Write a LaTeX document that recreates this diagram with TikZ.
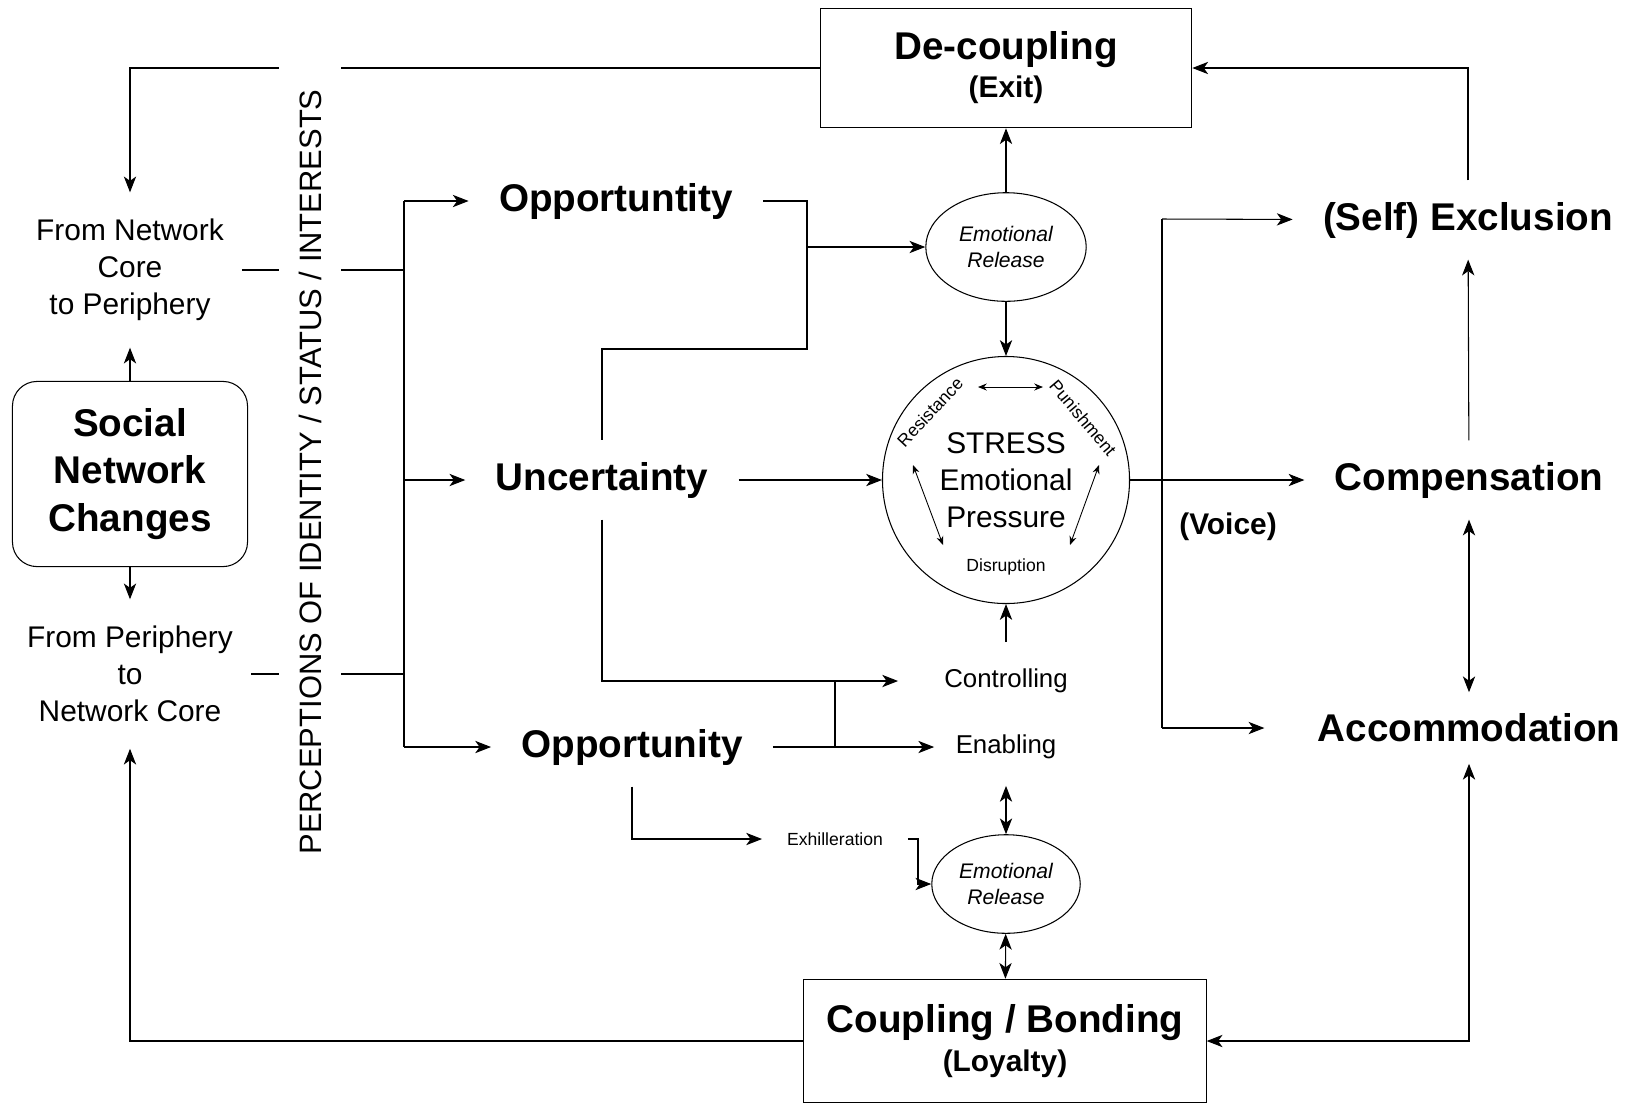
\documentclass[tikz,border=0pt]{standalone}
\usepackage{fontspec}
\setmainfont{Liberation Sans}
\usetikzlibrary{arrows.meta,shapes.geometric}
\begin{document}
\begin{tikzpicture}[x=.02cm,y=-.02cm,line width=.6pt,
  arr/.style={-{Stealth[length=9pt,width=7pt,inset=2.5pt]}},
  arrr/.style={{Stealth[length=9pt,width=7pt,inset=2.5pt]}-{Stealth[length=9pt,width=7pt,inset=2.5pt]}},
  inarr/.style={{Stealth[length=5pt,width=4pt]}-{Stealth[length=5pt,width=4pt]},line width=.5pt},
  bigtxt/.style={font=\fontsize{22}{27}\selectfont\bfseries,inner xsep=17pt,inner ysep=12pt},
  sidetxt/.style={font=\fontsize{17}{21}\selectfont,align=center,inner xsep=10pt,inner ysep=15pt},
  midtxt/.style={font=\fontsize{14.7}{18}\selectfont,inner xsep=12pt,inner ysep=15pt},
  smalltxt/.style={font=\fontsize{10}{12}\selectfont,inner sep=1pt},
  framebox/.style={draw,align=center,inner sep=0pt,font=\bfseries},
  release/.style={draw,ellipse,inner sep=0pt,align=center,font=\fontsize{12}{14.5}\selectfont\itshape}]
  \useasboundingbox (0,0) rectangle (1642,1107);
  % left column
  \node[sidetxt] (core) at (130,270) {From Network\\Core\\to Periphery};
  \node[framebox,rounded corners=14pt,minimum width=133.8pt,minimum height=105.4pt,font=\fontsize{22}{27}\selectfont\bfseries] (snc) at (130,474) {Social\\Network\\Changes};
  \node[sidetxt] (peri) at (130,674) {From Periphery\\to\\Network Core};
  % perceptions
  \node[bigtxt] (opp1) at (616,201) {Opportuntity};
  \node[bigtxt] (unc) at (602,480) {Uncertainty};
  \node[bigtxt] (opp2) at (632,747) {Opportunity};
  % centre
  \node[framebox,minimum width=211.5pt,minimum height=68pt] (exit) at (1006,68) {\fontsize{22}{27}\selectfont De-coupling\\[3.6pt]\fontsize{17}{21.5}\selectfont (Exit)};
  \node[release,minimum width=91.3pt,minimum height=61.8pt] (rel1) at (1006,247) {Emotional\\Release};
  \node[draw,circle,minimum size=140.6pt,inner sep=0pt,align=center,font=\fontsize{17}{21}\selectfont] (stress) at (1006,480) {STRESS\\Emotional\\Pressure};
  \node[smalltxt,rotate=47] (res) at (930,412) {Resistance};
  \node[smalltxt,rotate=-50] (pun) at (1083,418) {Punishment};
  \node[smalltxt] (dis) at (1006,567) {Disruption};
  \node[midtxt] (ctrl) at (1006,681) {Controlling};
  \node[midtxt] (enab) at (1006,747) {Enabling};
  \node[smalltxt,inner xsep=14pt] (exh) at (835,839) {Exhilleration};
  \node[release,minimum width=84.5pt,minimum height=56.1pt] (rel2) at (1006,884) {Emotional\\Release};
  \node[framebox,minimum width=229pt,minimum height=70.3pt] (bond) at (1005,1041) {\fontsize{22}{27}\selectfont Coupling / Bonding\\[4.7pt]\fontsize{17}{22.7}\selectfont (Loyalty)};
  % responses
  \node[bigtxt] (excl) at (1468,220) {(Self) Exclusion};
  \node[bigtxt] (comp) at (1469,480) {Compensation};
  \node[bigtxt] (acc) at (1469,728) {Accommodation};
  \node[font=\fontsize{17}{21}\selectfont\bfseries] (voice) at (1228,527) {(Voice)};
  % left links
  \coordinate (bt) at (404,201);
  \coordinate (bb) at (404,747);
  \draw (bt) -- (bb);
  \draw (core) -- (core -| bt);
  \draw (peri) -- (peri -| bt);
  \draw[arr] (bt) -- (opp1);
  \draw[arr] (bt |- unc) -- (unc);
  \draw[arr] (bb) -- (opp2);
  \draw[arr] (snc) -- (core);
  \draw[arr] (snc) -- (peri);
  \draw[arr] (exit.west) -| (core.north);
  \draw[arr] (bond.west) -| (peri.south);
  % middle links
  \coordinate (ob) at (807,349);
  \draw (opp1.east) -| (ob) -| (unc.north);
  \draw[arr] (rel1.west -| ob) -- (rel1.west);
  \draw[arr] (unc) -- (stress);
  \draw[arr] (rel1) -- (exit);
  \draw[arr] (rel1) -- (stress);
  \draw[arr,shorten >=14pt] (unc.south) |- (ctrl.west);
  \coordinate (oc) at (835,681);
  \draw (oc) -- (oc |- opp2);
  \draw[arr] (opp2) -- (enab);
  \draw[arr] (ctrl) -- (stress);
  \draw[arrr] (enab) -- (rel2);
  \draw[arrr] (rel2) -- (bond);
  \draw[arr] (opp2.south) |- (exh.west);
  \coordinate (xr) at (918,884);
  \draw[arr] (exh.east) -| (xr) -- (rel2.west);
  % inside the circle
  \coordinate (a1) at (978,387);
  \coordinate (a2) at (1043,387);
  \coordinate (a3) at (913,465);
  \coordinate (a4) at (943,545);
  \coordinate (a5) at (1099,465);
  \coordinate (a6) at (1070,545);
  \draw[inarr] (a1) -- (a2);
  \draw[inarr] (a3) -- (a4);
  \draw[inarr] (a5) -- (a6);
  % right links
  \coordinate (vt) at (1162,219);
  \coordinate (vb) at (1162,728);
  \draw (vt) -- (vb);
  \draw[arr] (stress) -- (comp);
  \draw[arr] (vt) -- (excl);
  \draw[arr,shorten >=13pt] (vb) -- (acc);
  \draw[arr] (excl.north) |- (exit.east);
  \draw[arr] (comp) -- (excl);
  \draw[arrr] (comp) -- (acc);
  \draw[arrr] (acc.south) |- (bond.east);
  % vertical label over the lines
  \node[fill=white,rotate=90,font=\fontsize{17.6}{20}\selectfont,inner xsep=18pt,inner ysep=11pt] (perc) at (310,472) {PERCEPTIONS OF IDENTITY / STATUS / INTERESTS};
\end{tikzpicture}
\end{document}
